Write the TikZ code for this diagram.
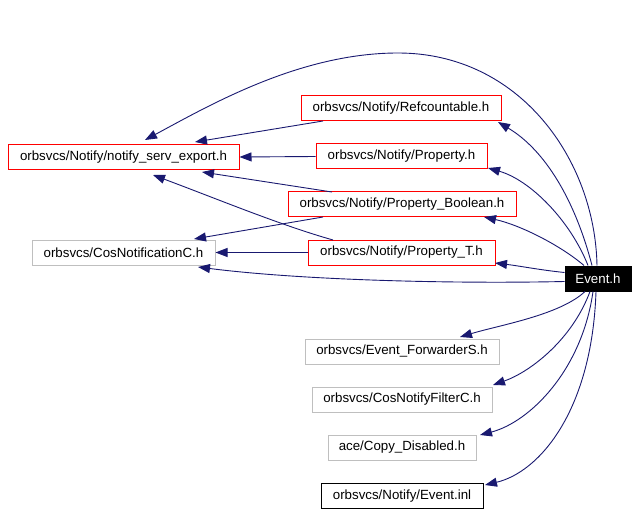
\documentclass[tikz,border=0pt]{standalone}
\usepackage{fontspec}
\setmainfont{Liberation Sans}
\usetikzlibrary{arrows.meta}
\definecolor{edgeblue}{HTML}{191970}
\definecolor{boxgray}{HTML}{BFBFBF}
\tikzset{
  file/.style={draw, line width=1pt, inner sep=0pt, font=\fontsize{13.3}{16}\selectfont, anchor=center},
  redfile/.style={file, draw=red},
  grayfile/.style={file, draw=boxgray},
  blackfile/.style={file, draw=black},
  mainfile/.style={file, draw=black, fill=black, text=white},
  inc/.style={draw=edgeblue, line width=0.9pt, -{Triangle[length=12pt,width=9pt]}, edgeblue},
}
\begin{document}
\begin{tikzpicture}[x=1pt,y=-1pt]
\useasboundingbox (0,0) rectangle (637,513);
\node[redfile, minimum width=231pt, minimum height=25pt] (nse) at (123.5,157) {orbsvcs/Notify/notify\_serv\_export.h};
\node[grayfile, minimum width=183pt, minimum height=25pt] (cosn) at (123.5,252.5) {orbsvcs/CosNotificationC.h};
\node[redfile, minimum width=200pt, minimum height=25pt] (ref) at (401,108.5) {orbsvcs/Notify/Refcountable.h};
\node[redfile, minimum width=171pt, minimum height=25pt] (prop) at (401.5,156.5) {orbsvcs/Notify/Property.h};
\node[redfile, minimum width=228pt, minimum height=25pt] (propb) at (402,204.5) {orbsvcs/Notify/Property\_Boolean.h};
\node[redfile, minimum width=187pt, minimum height=25pt] (propt) at (401.5,252.5) {orbsvcs/Notify/Property\_T.h};
\node[mainfile, minimum width=66pt, minimum height=25pt] (ev) at (598,278.5) {Event.h};
\node[grayfile, minimum width=194pt, minimum height=25pt] (fwd) at (402,351.5) {orbsvcs/Event\_ForwarderS.h};
\node[grayfile, minimum width=180pt, minimum height=25pt] (filt) at (402,399.5) {orbsvcs/CosNotifyFilterC.h};
\node[grayfile, minimum width=148pt, minimum height=25pt] (copy) at (402,447.5) {ace/Copy\_Disabled.h};
\node[blackfile, minimum width=162pt, minimum height=25pt] (inl) at (402,496) {orbsvcs/Notify/Event.inl};

% Event.h includes
\draw[inc] ([xshift=-1pt]ev.north) .. controls (595,160) and (520,53) .. (398,53)
  .. controls (300,53) and (210,105) .. (145,140);
\draw[inc] ([xshift=-6pt]ev.north) .. controls (575,200) and (545,150) .. (498,122);
\draw[inc] ([xshift=-10pt]ev.north) .. controls (570,220) and (530,180) .. (488,168);
\draw[inc] ([xshift=-14pt]ev.north) .. controls (560,245) and (520,225) .. (484,217);
\draw[inc] ([yshift=6pt]ev.west) .. controls (540,270) and (520,266) .. (495,263);
\draw[inc] ([yshift=-3pt]ev.west) .. controls (450,284) and (300,280) .. (198,267);
\draw[inc] ([xshift=-13pt]ev.south) .. controls (560,315) and (500,325) .. (460,337);
\draw[inc] ([xshift=-8pt]ev.south) .. controls (572,340) and (530,372) .. (493,385);
\draw[inc] ([xshift=-5pt]ev.south) .. controls (582,370) and (530,422) .. (480,435);
\draw[inc] ([xshift=-2pt]ev.south) .. controls (592,410) and (540,472) .. (485,485);

% other includes
\draw[inc] (323,121) -- (195,142);
\draw[inc] (prop.west) -- (nse.east);
\draw[inc] (332,192) -- (202,172);
\draw[inc] (323,217) -- (194,239);
\draw[inc] (333,240) .. controls (280,225) and (220,200) .. (153,175);
\draw[inc] (propt.west) -- (cosn.east);
\end{tikzpicture}
\end{document}
